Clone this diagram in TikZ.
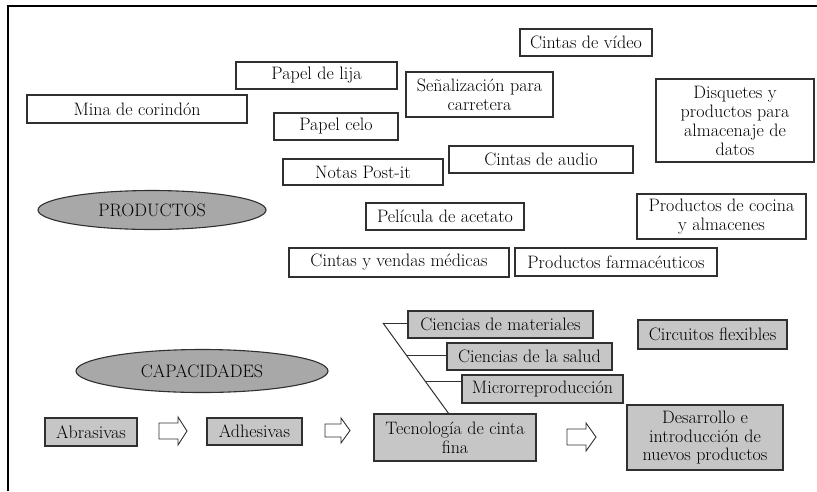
\documentclass[tikz,border=0pt]{standalone}
\usetikzlibrary{shapes.geometric}
\definecolor{boxgray}{HTML}{C6C6C6}
\definecolor{ellgray}{HTML}{A8A8A8}
\definecolor{linegray}{HTML}{303030}
\begin{document}
\begin{tikzpicture}[x=1pt,y=-1pt,
  every node/.style={font=\fontsize{18}{19}\selectfont, inner sep=0pt, align=center},
  pbox/.style={draw=linegray, line width=1.1pt, fill=white, rectangle},
  cbox/.style={draw=linegray, line width=1.3pt, fill=boxgray, rectangle},
  oval/.style={draw=linegray, line width=1.1pt, fill=ellgray, ellipse},
  barrow/.style={draw=linegray, line width=0.9pt, fill=white, line join=miter},
  conn/.style={draw=linegray, line width=1pt}]
\useasboundingbox (0,0) rectangle (817,491);
\draw[line width=2pt] (8,491) -- (8,6) -- (817,6);
% products
\node[pbox, minimum width=132pt, minimum height=27pt] (video) at (586,42.5) {Cintas de vídeo};
\node[pbox, minimum width=161pt, minimum height=27pt] (lija) at (316.5,75.5) {Papel de lija};
\node[pbox, minimum width=147pt, minimum height=45pt] (senal) at (479.5,94.5) {Señalización para\\carretera};
\node[pbox, minimum width=220pt, minimum height=28pt] (mina) at (137,109) {Mina de corindón};
\node[pbox, minimum width=158pt, minimum height=83pt] (disq) at (735,120.5) {Disquetes y\\productos para\\almacenaje de\\datos};
\node[pbox, minimum width=124pt, minimum height=27pt] (celo) at (336,126.5) {Papel celo};
\node[pbox, minimum width=184pt, minimum height=27pt] (audio) at (541,159.5) {Cintas de audio};
\node[pbox, minimum width=160pt, minimum height=26pt] (postit) at (363,172) {Notas Post-it};
\node[pbox, minimum width=158pt, minimum height=27pt] (acet) at (445,216.5) {Película de acetato};
\node[pbox, minimum width=169pt, minimum height=45pt] (cocina) at (721.5,216.5) {Productos de cocina\\y almacenes};
\node[pbox, minimum width=220pt, minimum height=29pt] (vendas) at (399,262.5) {Cintas y vendas médicas};
\node[pbox, minimum width=202pt, minimum height=28pt] (farma) at (616,262) {Productos farmacéuticos};
\node[oval, minimum width=228pt, minimum height=39pt] (prod) at (152,210) {PRODUCTOS};
% capacities
\node[oval, minimum width=252pt, minimum height=43pt] (capac) at (202,371) {CAPACIDADES};
\node[cbox, minimum width=185pt, minimum height=27pt] (mat) at (500.5,324.5) {Ciencias de materiales};
\node[cbox, minimum width=165pt, minimum height=27pt] (salud) at (529.5,356.5) {Ciencias de la salud};
\node[cbox, minimum width=161pt, minimum height=28pt] (micro) at (542.5,389) {Microrreproducción};
\node[cbox, minimum width=149pt, minimum height=29pt] (circ) at (712.5,334.5) {Circuitos flexibles};
\node[cbox, minimum width=92pt, minimum height=28pt] (abras) at (91,432) {Abrasivas};
\node[cbox, minimum width=95pt, minimum height=27pt] (adhes) at (254.5,431.5) {Adhesivas};
\node[cbox, minimum width=162pt, minimum height=47pt] (tec) at (455,437.5) {Tecnología de cinta\\fina};
\node[cbox, minimum width=156pt, minimum height=65pt] (desa) at (705,437.5) {Desarrollo e\\introducción de\\nuevos productos};
% block arrows
\draw[barrow] (159,423) -- (178,423) -- (178,417) -- (187,431) -- (178,445) -- (178,439) -- (159,439) -- cycle;
\draw[barrow] (325,424) -- (341,424) -- (341,418) -- (350,430.5) -- (341,443) -- (341,437) -- (325,437) -- cycle;
\draw[barrow] (567,429) -- (586,429) -- (586,423) -- (596,437) -- (586,451) -- (586,445) -- (567,445) -- cycle;
% bracket connectors
\coordinate (b0) at (383,323);
\coordinate (b1) at (449,414);
\coordinate (s2) at (406,355);
\coordinate (s3) at (425,381);
\draw[conn] (b0) -- (b1);
\draw[conn] (b0) -- (b0 -| mat.west);
\draw[conn] (s2) -- (s2 -| salud.west);
\draw[conn] (s3) -- (s3 -| micro.west);
\end{tikzpicture}
\end{document}
